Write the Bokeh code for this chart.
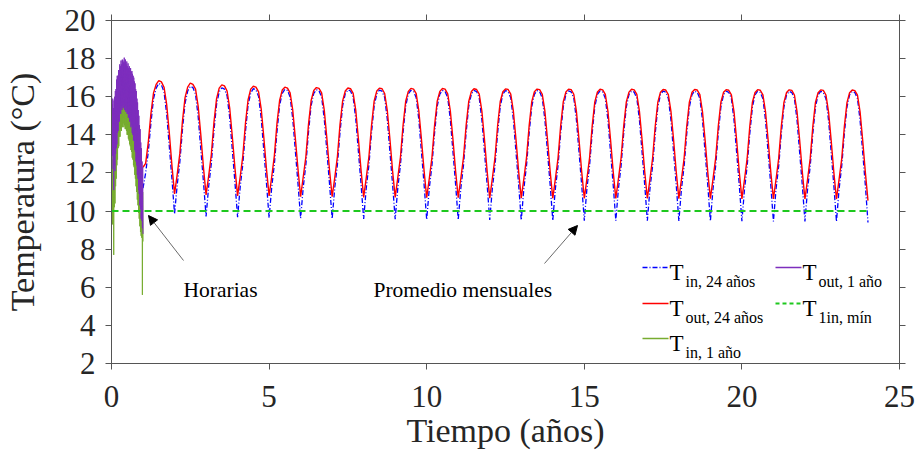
import numpy as np
from bokeh.plotting import figure
from bokeh.models import LinearAxis, FixedTicker, Label, Arrow, NormalHead, Range1d
from bokeh.embed import file_html
from bokeh.resources import INLINE

# ---------------- data ----------------
# Monthly averages, 24-year simulation (years 1..24), one row per year, 12 months each
tout_24 = [
    [12.30, 12.50, 13.60, 15.10, 16.20, 16.65, 16.85, 16.78, 16.50, 15.60, 14.10, 12.40],
    [10.90, 11.90, 13.00, 14.70, 15.95, 16.50, 16.72, 16.65, 16.40, 15.50, 14.00, 12.30],
    [10.85, 11.85, 12.95, 14.65, 15.90, 16.45, 16.62, 16.57, 16.30, 15.40, 13.90, 12.25],
    [10.80, 11.80, 12.90, 14.60, 15.85, 16.40, 16.55, 16.50, 16.25, 15.35, 13.85, 12.20],
    [10.80, 11.80, 12.90, 14.60, 15.80, 16.35, 16.50, 16.45, 16.20, 15.30, 13.80, 12.20],
    [10.75, 11.80, 12.85, 14.55, 15.80, 16.33, 16.48, 16.44, 16.20, 15.30, 13.80, 12.15],
    [10.75, 11.75, 12.85, 14.55, 15.78, 16.30, 16.46, 16.42, 16.18, 15.28, 13.78, 12.15],
    [10.72, 11.75, 12.85, 14.50, 15.78, 16.30, 16.45, 16.42, 16.17, 15.27, 13.77, 12.12],
    [10.72, 11.75, 12.82, 14.50, 15.76, 16.28, 16.44, 16.40, 16.16, 15.26, 13.76, 12.12],
    [10.70, 11.72, 12.82, 14.50, 15.76, 16.28, 16.43, 16.40, 16.15, 15.25, 13.75, 12.10],
    [10.70, 11.72, 12.80, 14.48, 15.75, 16.27, 16.42, 16.38, 16.14, 15.25, 13.75, 12.10],
    [10.68, 11.72, 12.80, 14.48, 15.75, 16.26, 16.41, 16.38, 16.14, 15.24, 13.74, 12.08],
    [10.68, 11.70, 12.80, 14.47, 15.74, 16.26, 16.40, 16.37, 16.13, 15.24, 13.74, 12.08],
    [10.67, 11.70, 12.78, 14.47, 15.74, 16.25, 16.40, 16.37, 16.13, 15.23, 13.73, 12.07],
    [10.67, 11.70, 12.78, 14.46, 15.73, 16.25, 16.39, 16.36, 16.12, 15.23, 13.73, 12.07],
    [10.66, 11.70, 12.78, 14.46, 15.73, 16.24, 16.39, 16.36, 16.12, 15.22, 13.72, 12.06],
    [10.66, 11.68, 12.77, 14.45, 15.72, 16.24, 16.38, 16.35, 16.11, 15.22, 13.72, 12.06],
    [10.65, 11.68, 12.77, 14.45, 15.72, 16.23, 16.38, 16.35, 16.11, 15.21, 13.71, 12.05],
    [10.65, 11.68, 12.76, 14.44, 15.71, 16.23, 16.37, 16.34, 16.10, 15.21, 13.71, 12.05],
    [10.64, 11.67, 12.76, 14.44, 15.71, 16.22, 16.37, 16.34, 16.10, 15.20, 13.70, 12.04],
    [10.64, 11.67, 12.75, 14.43, 15.70, 16.22, 16.36, 16.33, 16.09, 15.20, 13.70, 12.04],
    [10.63, 11.67, 12.75, 14.43, 15.70, 16.21, 16.36, 16.33, 16.09, 15.19, 13.69, 12.03],
    [10.63, 11.66, 12.74, 14.42, 15.69, 16.21, 16.35, 16.32, 16.08, 15.19, 13.69, 12.03],
]
tout_24_end = 10.55

tin_24 = [
    [11.20, 12.00, 13.10, 14.60, 15.90, 16.45, 16.70, 16.62, 16.25, 15.10, 13.40, 11.70],
    [9.85, 11.35, 12.55, 14.25, 15.65, 16.30, 16.55, 16.48, 16.12, 14.95, 13.25, 11.55],
    [9.72, 11.30, 12.50, 14.20, 15.60, 16.25, 16.47, 16.40, 16.05, 14.90, 13.20, 11.50],
    [9.68, 11.27, 12.47, 14.17, 15.56, 16.20, 16.42, 16.36, 16.01, 14.86, 13.16, 11.46],
    [9.65, 11.25, 12.45, 14.15, 15.54, 16.18, 16.39, 16.33, 15.99, 14.84, 13.14, 11.44],
    [9.62, 11.24, 12.44, 14.14, 15.53, 16.17, 16.37, 16.31, 15.98, 14.83, 13.13, 11.43],
    [9.60, 11.23, 12.43, 14.13, 15.52, 16.16, 16.36, 16.30, 15.97, 14.82, 13.12, 11.42],
    [9.58, 11.22, 12.42, 14.12, 15.51, 16.15, 16.35, 16.29, 15.96, 14.81, 13.11, 11.41],
    [9.57, 11.22, 12.41, 14.11, 15.50, 16.15, 16.34, 16.28, 15.95, 14.80, 13.10, 11.40],
    [9.55, 11.21, 12.40, 14.10, 15.50, 16.14, 16.33, 16.27, 15.95, 14.80, 13.10, 11.40],
    [9.54, 11.20, 12.40, 14.10, 15.49, 16.14, 16.33, 16.27, 15.94, 14.79, 13.09, 11.39],
    [9.53, 11.20, 12.39, 14.09, 15.49, 16.13, 16.32, 16.26, 15.94, 14.79, 13.09, 11.39],
    [9.52, 11.19, 12.39, 14.09, 15.48, 16.13, 16.32, 16.26, 15.93, 14.78, 13.08, 11.38],
    [9.51, 11.19, 12.38, 14.08, 15.48, 16.12, 16.31, 16.25, 15.93, 14.78, 13.08, 11.38],
    [9.50, 11.18, 12.38, 14.08, 15.47, 16.12, 16.31, 16.25, 15.92, 14.77, 13.07, 11.37],
    [9.50, 11.18, 12.37, 14.07, 15.47, 16.11, 16.30, 16.24, 15.92, 14.77, 13.07, 11.37],
    [9.49, 11.17, 12.37, 14.07, 15.46, 16.11, 16.30, 16.24, 15.91, 14.76, 13.06, 11.36],
    [9.48, 11.17, 12.36, 14.06, 15.46, 16.11, 16.29, 16.23, 15.91, 14.76, 13.06, 11.36],
    [9.47, 11.16, 12.36, 14.06, 15.46, 16.10, 16.29, 16.23, 15.91, 14.76, 13.06, 11.36],
    [9.47, 11.16, 12.36, 14.06, 15.45, 16.10, 16.29, 16.23, 15.90, 14.75, 13.05, 11.35],
    [9.46, 11.16, 12.35, 14.05, 15.45, 16.10, 16.28, 16.22, 15.90, 14.75, 13.05, 11.35],
    [9.46, 11.15, 12.35, 14.05, 15.45, 16.10, 16.28, 16.22, 15.90, 14.75, 13.05, 11.35],
    [9.45, 11.15, 12.35, 14.05, 15.45, 16.10, 16.28, 16.22, 15.90, 14.75, 13.05, 11.35],
]
tin_24_end = 9.40

# Hourly values of the first year (sampled), alternating daily highs / lows
tout_1 = [18.8, 13.6, 15.6, 12.9, 15.9, 12.2, 15.4, 11.1, 15.8, 12.4, 16.0, 12.1, 16.3, 13.0,
          16.4, 13.3, 16.9, 13.5, 17.1, 14.1, 17.1, 14.2, 17.4, 14.7, 17.4, 14.7, 17.7, 15.1,
          17.6, 15.1, 17.9, 15.4, 17.7, 15.3, 17.95, 15.5, 17.9, 15.4, 17.8, 15.6, 18.05, 15.3,
          17.8, 15.5, 17.95, 15.2, 17.7, 15.3, 17.85, 15.1, 17.6, 15.1, 17.75, 14.9, 17.5, 14.9,
          17.6, 14.7, 17.4, 14.7, 17.5, 14.4, 17.3, 14.5, 17.35, 14.1, 17.2, 14.0, 17.1, 13.7,
          17.0, 13.7, 16.8, 13.2, 16.7, 13.1, 16.4, 12.6, 16.3, 12.4, 15.9, 11.9, 15.7, 11.7,
          15.3, 11.1, 15.0, 10.9, 14.5, 10.3, 14.3, 10.1, 13.6, 9.6, 13.3, 9.5, 12.6, 9.1,
          12.3, 8.8]
tin_1 = [12.4, 9.6, 13.1, 9.3, 12.7, 10.1, 12.3, 7.7, 13.0, 10.2, 13.7, 10.4, 14.1, 11.3,
         14.7, 11.7, 15.0, 12.4, 15.5, 12.7, 15.7, 13.3, 16.1, 13.4, 16.3, 13.9, 16.4, 13.9,
         16.7, 14.3, 16.6, 14.2, 16.9, 14.5, 16.8, 14.4, 17.0, 14.6, 16.9, 14.4, 16.9, 14.5,
         16.8, 14.3, 16.9, 14.3, 16.7, 14.2, 16.8, 14.0, 16.6, 14.0, 16.6, 13.8, 16.5, 13.7,
         16.5, 13.5, 16.3, 13.4, 16.3, 13.2, 16.1, 13.1, 16.1, 12.8, 15.9, 12.7, 15.8, 12.4,
         15.6, 12.3, 15.4, 11.9, 15.2, 11.7, 14.9, 11.3, 14.7, 11.0, 14.3, 10.6, 14.0, 10.3,
         13.6, 9.9, 13.3, 9.6, 12.9, 9.2, 12.5, 8.9, 12.1, 8.7, 11.8, 8.6, 11.4, 5.6,
         11.0, 8.4]

t1in_min = 10.0
x_ticks = [0, 5, 10, 15, 20, 25]
y_ticks = [2, 4, 6, 8, 10, 12, 14, 16, 18, 20]

# ---------------- series assembly ----------------
tout_m = [v for row in tout_24 for v in row] + [tout_24_end]
tin_m = [v for row in tin_24 for v in row] + [tin_24_end]
t_month = 1 + np.arange(len(tout_m)) / 12.0
t_hour = np.linspace(0, 1.0, len(tout_1))

FONT = "Liberation Serif"
AX_COL = "#262626"
LINE_COL = "#555555"
PURPLE = "#7D2EBD"

p = figure(width=915, height=453, x_range=Range1d(0, 25), y_range=Range1d(2, 20),
           output_backend="svg", toolbar_location=None,
           min_border_left=111, min_border_right=16, min_border_top=20, min_border_bottom=90)
p.grid.visible = False
p.background_fill_color = "white"
p.border_fill_color = "white"
p.outline_line_color = LINE_COL

for ax, ticks in ((p.xaxis[0], x_ticks), (p.yaxis[0], y_ticks)):
    ax.ticker = FixedTicker(ticks=ticks)
    ax.major_tick_out = 6
    ax.major_tick_in = 0
    ax.minor_tick_line_color = None
    ax.axis_line_color = LINE_COL
    ax.major_tick_line_color = LINE_COL
    ax.major_label_text_font = FONT
    ax.major_label_text_font_size = "31px"
    ax.major_label_text_color = AX_COL
    ax.axis_label_text_font = FONT
    ax.axis_label_text_font_size = "34px"
    ax.axis_label_text_font_style = "normal"
    ax.axis_label_text_color = AX_COL

p.xaxis.axis_label = "Tiempo (años)"
p.yaxis.axis_label = "Temperatura (°C)"
p.xaxis.major_label_standoff = 16
p.xaxis.axis_label_standoff = 2
p.yaxis.major_label_standoff = 10
p.yaxis.axis_label_standoff = 21

for loc, ticks in (("above", x_ticks), ("right", y_ticks)):
    a = LinearAxis(ticker=FixedTicker(ticks=ticks))
    a.major_tick_out = 6
    a.major_tick_in = 0
    a.minor_tick_line_color = None
    a.axis_line_color = LINE_COL
    a.major_tick_line_color = LINE_COL
    a.major_label_overrides = {t: "" for t in ticks}
    a.major_label_text_font_size = "1px"
    a.major_label_standoff = 0
    p.add_layout(a, loc)

# ---------------- glyphs ----------------
p.line(t_month, tin_m, line_color="#0000FF", line_width=1.3, line_dash="5 2 1 2")
p.line(t_month, tout_m, line_color="#FF0000", line_width=1.4)
p.line(t_hour, tin_1, line_color="#77AC30", line_width=1)
p.line(t_hour, tout_1, line_color=PURPLE, line_width=1)
p.line([0, 24], [t1in_min, t1in_min], line_color="#1EC81E", line_width=2, line_dash="7 4")

# ---------------- layout helpers (pixel -> data) ----------------
def dx(px):
    return (px - 111) / 788 * 25

def dy(py):
    return (363 - py) / 343 * 18 + 2

# annotations
p.add_layout(Arrow(end=NormalHead(size=9, fill_color="black", line_color="black"),
                   x_start=dx(183), y_start=dy(260), x_end=dx(148), y_end=dy(215),
                   line_color="#444444", line_width=0.8))
p.add_layout(Arrow(end=NormalHead(size=9, fill_color="black", line_color="black"),
                   x_start=dx(544), y_start=dy(263), x_end=dx(577), y_end=dy(225),
                   line_color="#444444", line_width=0.8))
p.add_layout(Label(x=dx(183), y=dy(289), text="Horarias", text_font=FONT,
                   text_font_size="21.5px", text_color="black", text_baseline="alphabetic"))
p.add_layout(Label(x=dx(373), y=dy(289), text="Promedio mensuales", text_font=FONT,
                   text_font_size="21.5px", text_color="black", text_baseline="alphabetic"))

# legend (manual, with subscripts)
legend_items = [
    (642, 267, "#0000FF", "5 2 1 2", 1.3, "in, 24 años"),
    (642, 303, "#FF0000", "solid", 1.3, "out, 24 años"),
    (642, 338, "#77AC30", "solid", 1.3, "in, 1 año"),
    (775, 267, PURPLE, "solid", 1.3, "out, 1 año"),
    (775, 303, "#1EC81E", "4 3", 2, "1in, mín"),
]
for (lx, ly, col, dash, lw, sub) in legend_items:
    p.add_layout(Arrow(end=None, x_start=dx(lx), y_start=dy(ly), x_end=dx(lx + 26), y_end=dy(ly),
                       line_color=col, line_width=lw, line_dash=dash))
    p.add_layout(Label(x=dx(lx + 27), y=dy(ly + 5), text="T", text_font=FONT,
                       text_font_size="23px", text_color="black", text_baseline="alphabetic"))
    p.add_layout(Label(x=dx(lx + 43), y=dy(ly + 14), text=sub, text_font=FONT,
                       text_font_size="16px", text_color="black", text_baseline="alphabetic"))

open("out.html", "w").write(file_html(p, INLINE))
